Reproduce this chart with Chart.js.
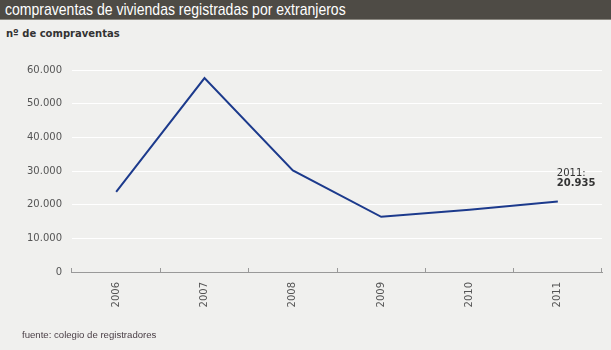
<!DOCTYPE html>
<html>
<head>
<meta charset="utf-8">
<script src="https://cdn.jsdelivr.net/npm/chart.js@4/dist/chart.umd.min.js"></script>
<style>
  html, body { margin: 0; padding: 0; }
  body { width: 611px; height: 350px; background: #f0f0ee; position: relative; overflow: hidden; }
  .title-bar {
    position: absolute; left: 0; top: 0; width: 611px; height: 20px;
    background: #4e4b45; border-bottom: 1px solid #8a8780;
    color: #fff; font: 17px "Liberation Sans", Arial, sans-serif;
    line-height: 20px; padding-left: 5px; box-sizing: border-box; white-space: nowrap;
  }
  .title-bar span { display: inline-block; transform: scaleX(0.825); transform-origin: left center; }
  .subtitle {
    position: absolute; left: 6px; top: 28px;
    font: bold 10px "DejaVu Sans", Verdana, sans-serif; color: #333;
  }
  .footer {
    position: absolute; left: 22px; top: 329px;
    font: 9.6px "Liberation Sans", Tahoma, sans-serif; color: #4a3f46;
  }
  #chart { position: absolute; left: 0; top: 0; }
</style>
</head>
<body>
<div class="title-bar"><span>compraventas de viviendas registradas por extranjeros</span></div>
<div class="subtitle">nº de compraventas</div>
<canvas id="chart" width="611" height="350"></canvas>
<div class="footer">fuente: colegio de registradores</div>

<script>
// data
const years = ['2006', '2007', '2008', '2009', '2010', '2011'];
const sales = [23800, 57600, 30200, 16400, 18500, 20935];
const yTicks = [0, 10000, 20000, 30000, 40000, 50000, 60000];

const fmt = v => v.toLocaleString('de-DE');

// label next to the last point
const lastLabel = {
  id: 'lastLabel',
  afterDatasetsDraw(chart) {
    const meta = chart.getDatasetMeta(0);
    const i = sales.length - 1;
    const pt = meta.data[i];
    const ctx = chart.ctx;
    ctx.save();
    ctx.fillStyle = '#333';
    ctx.textAlign = 'left';
    ctx.textBaseline = 'middle';
    ctx.font = '10px "DejaVu Sans", Verdana, sans-serif';
    ctx.fillText(years[i] + ':', pt.x - 1, pt.y - 28);
    ctx.font = 'bold 10px "DejaVu Sans", Verdana, sans-serif';
    ctx.fillText(fmt(sales[i]), pt.x - 1, pt.y - 18);
    ctx.restore();
  }
};

new Chart(document.getElementById('chart'), {
  type: 'line',
  data: {
    labels: years,
    datasets: [{
      data: sales,
      borderColor: '#1c3a8c',
      borderWidth: 2,
      pointRadius: 0,
      tension: 0,
      fill: false
    }]
  },
  options: {
    responsive: false,
    animation: false,
    layout: { padding: { left: 0, right: 9, top: 70, bottom: 0 } },
    plugins: { legend: { display: false }, tooltip: { enabled: false } },
    scales: {
      x: {
        offset: true,
        grid: {
          offset: true,
          drawOnChartArea: false,
          tickLength: -4,
          color: '#999'
        },
        border: { color: '#999', width: 1 },
        ticks: {
          color: '#555',
          font: { family: '"DejaVu Sans", Verdana, sans-serif', size: 10 },
          minRotation: 90, maxRotation: 90,
          padding: 14
        },
        afterFit(scale) { scale.height = 78; }
      },
      y: {
        min: 0, max: 60000,
        afterBuildTicks(scale) { scale.ticks = yTicks.map(v => ({ value: v })); },
        grid: {
          color: ctx => ctx.tick && ctx.tick.value === 0 ? 'rgba(0,0,0,0)' : '#ffffff',
          lineWidth: 1,
          drawTicks: false
        },
        border: { display: false },
        ticks: {
          color: '#555',
          font: { family: '"DejaVu Sans", Verdana, sans-serif', size: 10 },
          padding: 10,
          callback: v => fmt(v)
        },
        afterFit(scale) { scale.width = 72; }
      }
    }
  },
  plugins: [lastLabel]
});
</script>
</body>
</html>
